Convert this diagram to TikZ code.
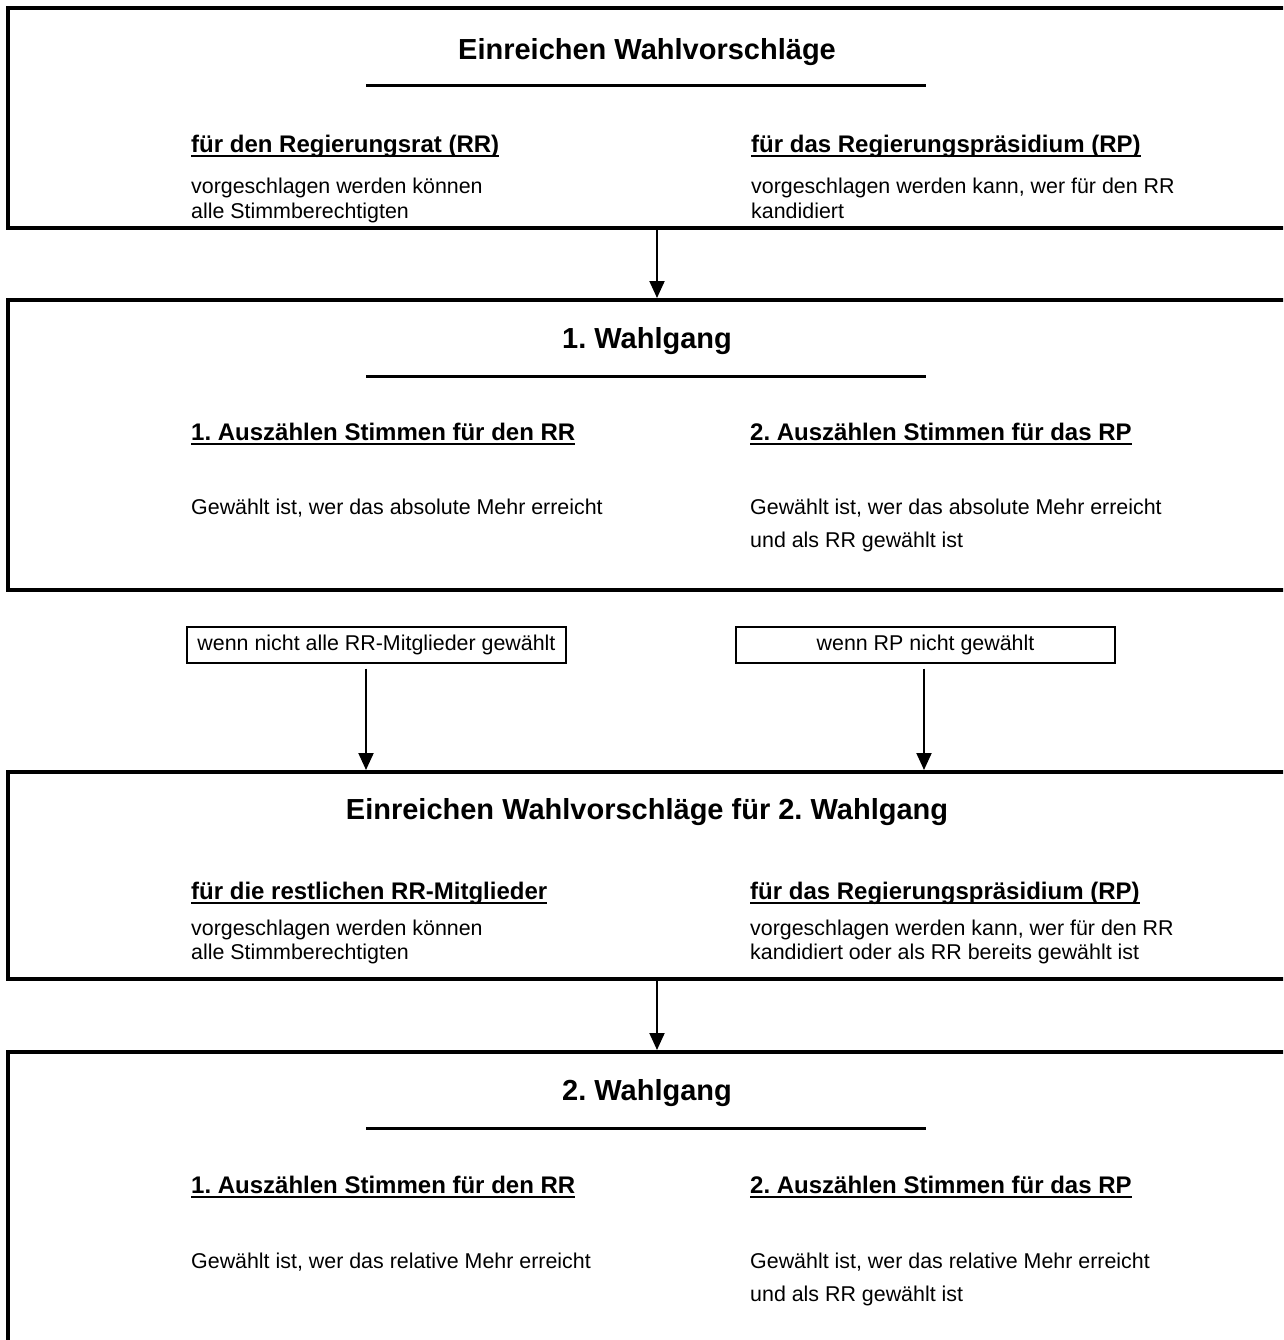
\documentclass[tikz,border=0pt]{standalone}
\usepackage{fontspec}
\setmainfont{Liberation Sans}
\usetikzlibrary{arrows.meta}
\frenchspacing
\tikzset{
  frame/.style={draw, line width=4pt, minimum width=1282pt, inner sep=0pt},
  headtxt/.style={font=\fontsize{29}{35}\selectfont\bfseries, inner sep=0pt, anchor=base},
  subtxt/.style={font=\fontsize{24}{29}\selectfont\bfseries, inner sep=0pt, anchor=base west},
  bodytxt/.style={font=\fontsize{21.4}{25}\selectfont, inner sep=0pt, anchor=base west},
  condbox/.style={draw, line width=1.3pt, font=\fontsize{21.4}{25}\selectfont, minimum width=379pt, minimum height=36pt, inner sep=0pt},
  arr/.style={line width=2pt, -{Triangle[length=17pt,width=15pt]}},
  divider/.style={line width=3pt},
  uline/.style={line width=2pt},
}
\newcommand{\ul}[1]{\draw[uline] ([yshift=-3.5pt]#1.base west) -- ([yshift=-3.5pt]#1.base east);}
\begin{document}
\begin{tikzpicture}[x=1pt,y=-1pt]
\useasboundingbox (0,0) rectangle (1283,1340);
\clip (0,0) rectangle (1283,1340);
\fill[white] (0,0) rectangle (1283,1340);
\coordinate (mid) at (657,0);
\coordinate (lx) at (366,0);
\coordinate (rx) at (924,0);

% Box 1
\node[frame, minimum height=220pt] (b1) at (649,118) {};
\node[headtxt] (h1) at (647,60) {Einreichen Wahlvorschläge};
\draw[divider] (366,86) -- (926,86);
\node[subtxt] (s1l) at (191,153) {für den Regierungsrat (RR)};
\node[subtxt] (s1r) at (751,153) {für das Regierungspräsidium (RP)};
\ul{s1l}\ul{s1r}
\node[bodytxt] (t1a) at (191,194) {vorgeschlagen werden können};
\node[bodytxt] (t1b) at (191,219) {alle Stimmberechtigten};
\node[bodytxt] (t1c) at (751,194) {vorgeschlagen werden kann, wer für den RR};
\node[bodytxt] (t1d) at (751,219) {kandidiert};

% Box 2
\node[frame, minimum height=290pt] (b2) at (649,445) {};
\node[headtxt] (h2) at (647,348) {1. Wahlgang};
\draw[divider] (366,376) -- (926,376);
\node[subtxt] (s2l) at (191,440) {1. Auszählen Stimmen für den RR};
\node[subtxt] (s2r) at (750,440) {2. Auszählen Stimmen für das RP};
\ul{s2l}\ul{s2r}
\node[bodytxt] (t2a) at (191,514) {Gewählt ist, wer das absolute Mehr erreicht};
\node[bodytxt] (t2b) at (750,514) {Gewählt ist, wer das absolute Mehr erreicht};
\node[bodytxt] (t2c) at (750,547) {und als RR gewählt ist};

% conditions
\node[condbox] (c1) at (376.5,645) {wenn nicht alle RR-Mitglieder gewählt};
\node[condbox] (c2) at (925.5,645) {wenn RP nicht gewählt};

% Box 3
\node[frame, minimum height=207pt] (b3) at (649,875.5) {};
\node[headtxt] (h3) at (647,819) {Einreichen Wahlvorschläge für 2. Wahlgang};
\node[subtxt] (s3l) at (191,899) {für die restlichen RR-Mitglieder};
\node[subtxt] (s3r) at (750,899) {für das Regierungspräsidium (RP)};
\ul{s3l}\ul{s3r}
\node[bodytxt] (t3a) at (191,935) {vorgeschlagen werden können};
\node[bodytxt] (t3b) at (191,959) {alle Stimmberechtigten};
\node[bodytxt] (t3c) at (750,935) {vorgeschlagen werden kann, wer für den RR};
\node[bodytxt] (t3d) at (750,959) {kandidiert oder als RR bereits gewählt ist};

% Box 4
\node[frame, minimum height=308pt] (b4) at (649,1206) {};
\node[headtxt] (h4) at (647,1100) {2. Wahlgang};
\draw[divider] (366,1128) -- (926,1128);
\node[subtxt] (s4l) at (191,1193) {1. Auszählen Stimmen für den RR};
\node[subtxt] (s4r) at (750,1193) {2. Auszählen Stimmen für das RP};
\ul{s4l}\ul{s4r}
\node[bodytxt] (t4a) at (191,1268) {Gewählt ist, wer das relative Mehr erreicht};
\node[bodytxt] (t4b) at (750,1268) {Gewählt ist, wer das relative Mehr erreicht};
\node[bodytxt] (t4c) at (750,1301) {und als RR gewählt ist};

% connectors
\draw[arr] (b1.south -| mid) -- (b2.north -| mid);
\draw[arr, shorten <=5pt] (c1.south -| lx) -- (b3.north -| lx);
\draw[arr, shorten <=5pt] (c2.south -| rx) -- (b3.north -| rx);
\draw[arr] (b3.south -| mid) -- (b4.north -| mid);
\end{tikzpicture}
\end{document}
